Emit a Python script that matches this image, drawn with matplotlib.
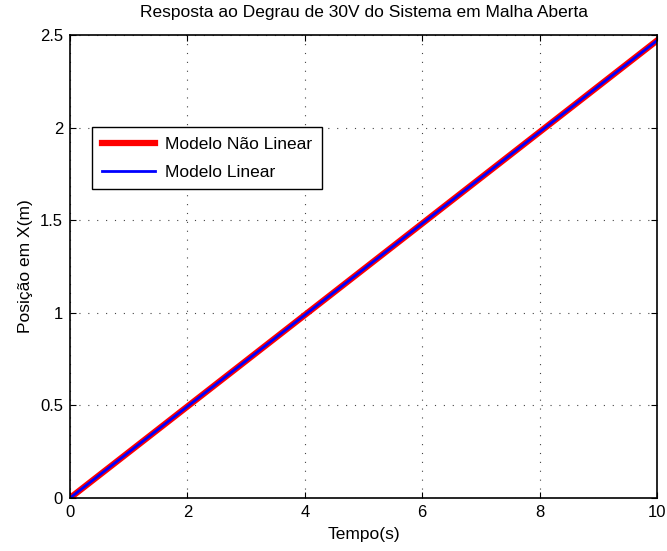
import matplotlib
matplotlib.use("Agg")
from matplotlib import pyplot as plt

plt.rcParams['font.family'] = ['Liberation Sans', 'DejaVu Sans']

# data
tempo = [0, 2, 4, 6, 8, 10]
x_nao_linear = [0, 0.494, 0.988, 1.482, 1.976, 2.47]
x_linear = [0, 0.494, 0.988, 1.482, 1.976, 2.47]

xticks = [0, 2, 4, 6, 8, 10]
yticks = [0, 0.5, 1, 1.5, 2, 2.5]

fig = plt.figure(figsize=(6.67, 5.51), dpi=100)
ax = fig.add_axes([70/667, 53/551, 587/667, 463/551])

ax.plot(tempo, x_nao_linear, color='#ff0000', linewidth=4.5, label='Modelo Não Linear')
ax.plot(tempo, x_linear, color='#0000ff', linewidth=2, label='Modelo Linear')

ax.set_xlim(0, 10)
ax.set_ylim(0, 2.5)
ax.set_xticks(xticks)
ax.set_yticks(yticks)
ax.set_yticklabels(['0', '0.5', '1', '1.5', '2', '2.5'])
ax.tick_params(direction='in', labelsize=12, top=True, right=True, length=4, pad=5)
ax.grid(True, linestyle=(0, (1, 7)), linewidth=0.8, color='#444444')
for s in ax.spines.values():
    s.set_linewidth(1.2)

ax.set_xlabel('Tempo(s)', fontsize=12.5, labelpad=5)
ax.set_ylabel('Posição em X(m)', fontsize=12.5, labelpad=5)
ax.set_title('Resposta ao Degrau de 30V do Sistema em Malha Aberta', fontsize=12.5, pad=13)

leg = ax.legend(loc='upper left', bbox_to_anchor=(22/587, 371/463), fontsize=12.5,
                fancybox=False, edgecolor='black', framealpha=1, borderaxespad=0,
                handlelength=3.1, handletextpad=0.55, labelspacing=0.75,
                borderpad=0.55)
leg.get_frame().set_linewidth(1.0)

fig.savefig('out.png', dpi=100)
